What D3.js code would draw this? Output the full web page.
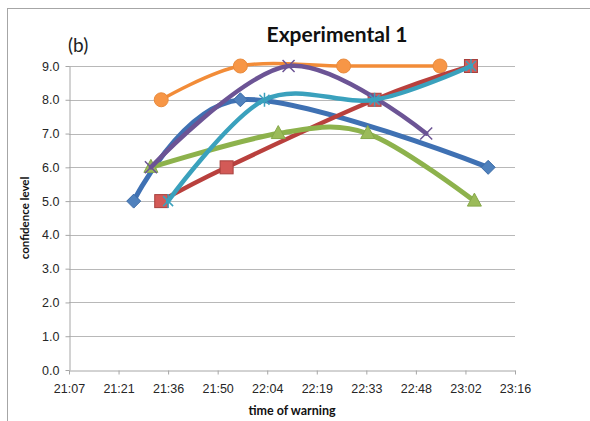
<!DOCTYPE html>
<html>
<head>
<meta charset="utf-8">
<script src="https://cdn.jsdelivr.net/npm/d3@7"></script>
<style>
  body { margin: 0; background: #fff; }
  svg { display: block; font-family: Lato, "Open Sans", sans-serif; }
</style>
</head>
<body>
<svg width="590" height="421"></svg>
<script>
// datos (hora del aviso, nivel de confianza)
const blueSeries   = [["21:26", 5], ["21:57", 8], ["23:09", 6]];
const redSeries    = [["21:34", 5], ["21:53", 6], ["22:36", 8], ["23:04", 9]];
const greenSeries  = [["21:31", 6], ["22:08", 7], ["22:34", 7], ["23:05", 5]];
const purpleSeries = [["21:31", 6], ["22:11", 9], ["22:51", 7]];
const cyanSeries   = [["21:36", 5], ["22:04", 8], ["22:36", 8], ["23:04", 9]];
const orangeSeries = [["21:34", 8], ["21:57", 9], ["22:27", 9], ["22:55", 9]];

const xTicks = [0.88, 0.89, 0.90, 0.91, 0.92, 0.93, 0.94, 0.95, 0.96, 0.97]; // fracciones de dia
const yTicks = [0, 1, 2, 3, 4, 5, 6, 7, 8, 9];

const svg = d3.select("svg"),
	margin = {left: 69, right: 75, top: 66, bottom: 51},
	width = +svg.attr("width"),
	height = +svg.attr("height");

const toDay = s => { const p = s.split(":"); return (+p[0] * 60 + +p[1]) / 1440; };
const fmtDay = d => {
	const m = Math.floor(d * 1440 + 1e-6);
	return Math.floor(m / 60) + ":" + String(m % 60).padStart(2, "0");
};

const x = d3.scaleLinear().domain([0.88, 0.97]).range([margin.left, width - margin.right]);
const y = d3.scaleLinear().domain([0, 9]).range([height - margin.bottom, margin.top]);

// marco del grafico
svg.append("rect")
	.attr("x", 7.5).attr("y", 8.5)
	.attr("width", 600).attr("height", 450)
	.attr("fill", "none").attr("stroke", "#a6a6a6");

// lineas de cuadricula
svg.append("g").selectAll("line")
	.data(yTicks.slice(1))
	.enter().append("line")
	.attr("x1", x(0.88)).attr("x2", x(0.97))
	.attr("y1", d => Math.round(y(d)) + 0.5).attr("y2", d => Math.round(y(d)) + 0.5)
	.attr("stroke", "#b8b8b8");

// ejes
const xAxis = svg.append("g")
	.attr("transform", "translate(0," + (Math.round(y(0)) + 0.5) + ")")
	.call(d3.axisBottom(x).tickValues(xTicks).tickFormat(fmtDay).tickSize(4).tickSizeOuter(0));
const yAxis = svg.append("g")
	.attr("transform", "translate(" + (Math.round(x(0.88)) + 0.5) + ",0)")
	.call(d3.axisLeft(y).tickValues(yTicks).tickFormat(d3.format(".1f")).tickSize(4).tickSizeOuter(0));

[xAxis, yAxis].forEach(a => {
	a.select(".domain").attr("stroke", "#a6a6a6");
	a.selectAll(".tick line").attr("stroke", "#a6a6a6");
	a.selectAll(".tick text").attr("fill", "#262626").style("font-size", "12.5px");
});
xAxis.selectAll(".tick text").attr("dy", "1.2em");
yAxis.selectAll(".tick text").attr("x", -10);

// titulos
svg.append("text").attr("x", 337).attr("y", 42)
	.attr("text-anchor", "middle")
	.style("font-size", "21px").style("font-weight", "bold").attr("fill", "#111")
	.text("Experimental 1");
svg.append("text").attr("x", 68).attr("y", 52)
	.style("font-size", "19px").attr("fill", "#222")
	.text("(b)");
svg.append("text").attr("x", (x(0.88) + x(0.97)) / 2).attr("y", 415)
	.attr("text-anchor", "middle")
	.style("font-size", "12.5px").style("font-weight", "bold").attr("fill", "#111")
	.text("time  of warning");
svg.append("text")
	.attr("transform", "translate(29," + (y(4.5)) + ") rotate(-90)")
	.attr("text-anchor", "middle")
	.style("font-size", "11.5px").style("font-weight", "bold").attr("fill", "#111")
	.text("confidence level");

// series
const series = [
	{data: orangeSeries, color: "#f28c38", marker: "circle", w: 3.5},
	{data: blueSeries,   color: "#3f71b3", marker: "diamond", w: 5},
	{data: redSeries,    color: "#b9403d", marker: "square", w: 4.5},
	{data: greenSeries,  color: "#8db24c", marker: "triangle", w: 5},
	{data: purpleSeries, color: "#6c5495", marker: "x", w: 4.5},
	{data: cyanSeries,   color: "#3aa1bd", marker: "star", w: 4.5}
];

const line = d3.line()
	.x(d => x(toDay(d[0])))
	.y(d => y(d[1]))
	.curve(d3.curveCardinal.tension(0));

const markerFill = {
	circle: "#f79646", diamond: "#4f81bd", square: "#d35a57", triangle: "#9bbb59"
};

series.forEach(s => {
	const g = svg.append("g");
	g.append("path")
		.attr("d", line(s.data))
		.attr("fill", "none")
		.attr("stroke", s.color)
		.attr("stroke-width", s.w)
		.attr("stroke-linecap", "round");

	const m = g.selectAll("g.mk")
		.data(s.data)
		.enter().append("g")
		.attr("class", "mk")
		.attr("transform", d => "translate(" + x(toDay(d[0])) + "," + y(d[1]) + ")");

	if (s.marker === "circle") {
		m.append("circle").attr("r", 7).attr("fill", markerFill.circle).attr("stroke", "#e98a3b");
	} else if (s.marker === "diamond") {
		m.append("path").attr("d", "M0,-7L7,0L0,7L-7,0Z").attr("fill", markerFill.diamond).attr("stroke", "#3a6aa6");
	} else if (s.marker === "square") {
		m.append("rect").attr("x", -6.5).attr("y", -6.5).attr("width", 13).attr("height", 13)
			.attr("fill", markerFill.square).attr("stroke", "#a8403d");
	} else if (s.marker === "triangle") {
		m.append("path").attr("d", "M0,-8L7,5L-7,5Z").attr("fill", markerFill.triangle).attr("stroke", "#86a84a");
	} else if (s.marker === "x") {
		m.append("path").attr("d", "M-6,-6L6,6M-6,6L6,-6").attr("stroke", s.color).attr("stroke-width", 1.5);
	} else if (s.marker === "star") {
		m.append("path").attr("d", "M-5,-5L5,5M-5,5L5,-5M0,-7L0,7").attr("stroke", s.color).attr("stroke-width", 1.5);
	}
});
</script>
</body>
</html>
